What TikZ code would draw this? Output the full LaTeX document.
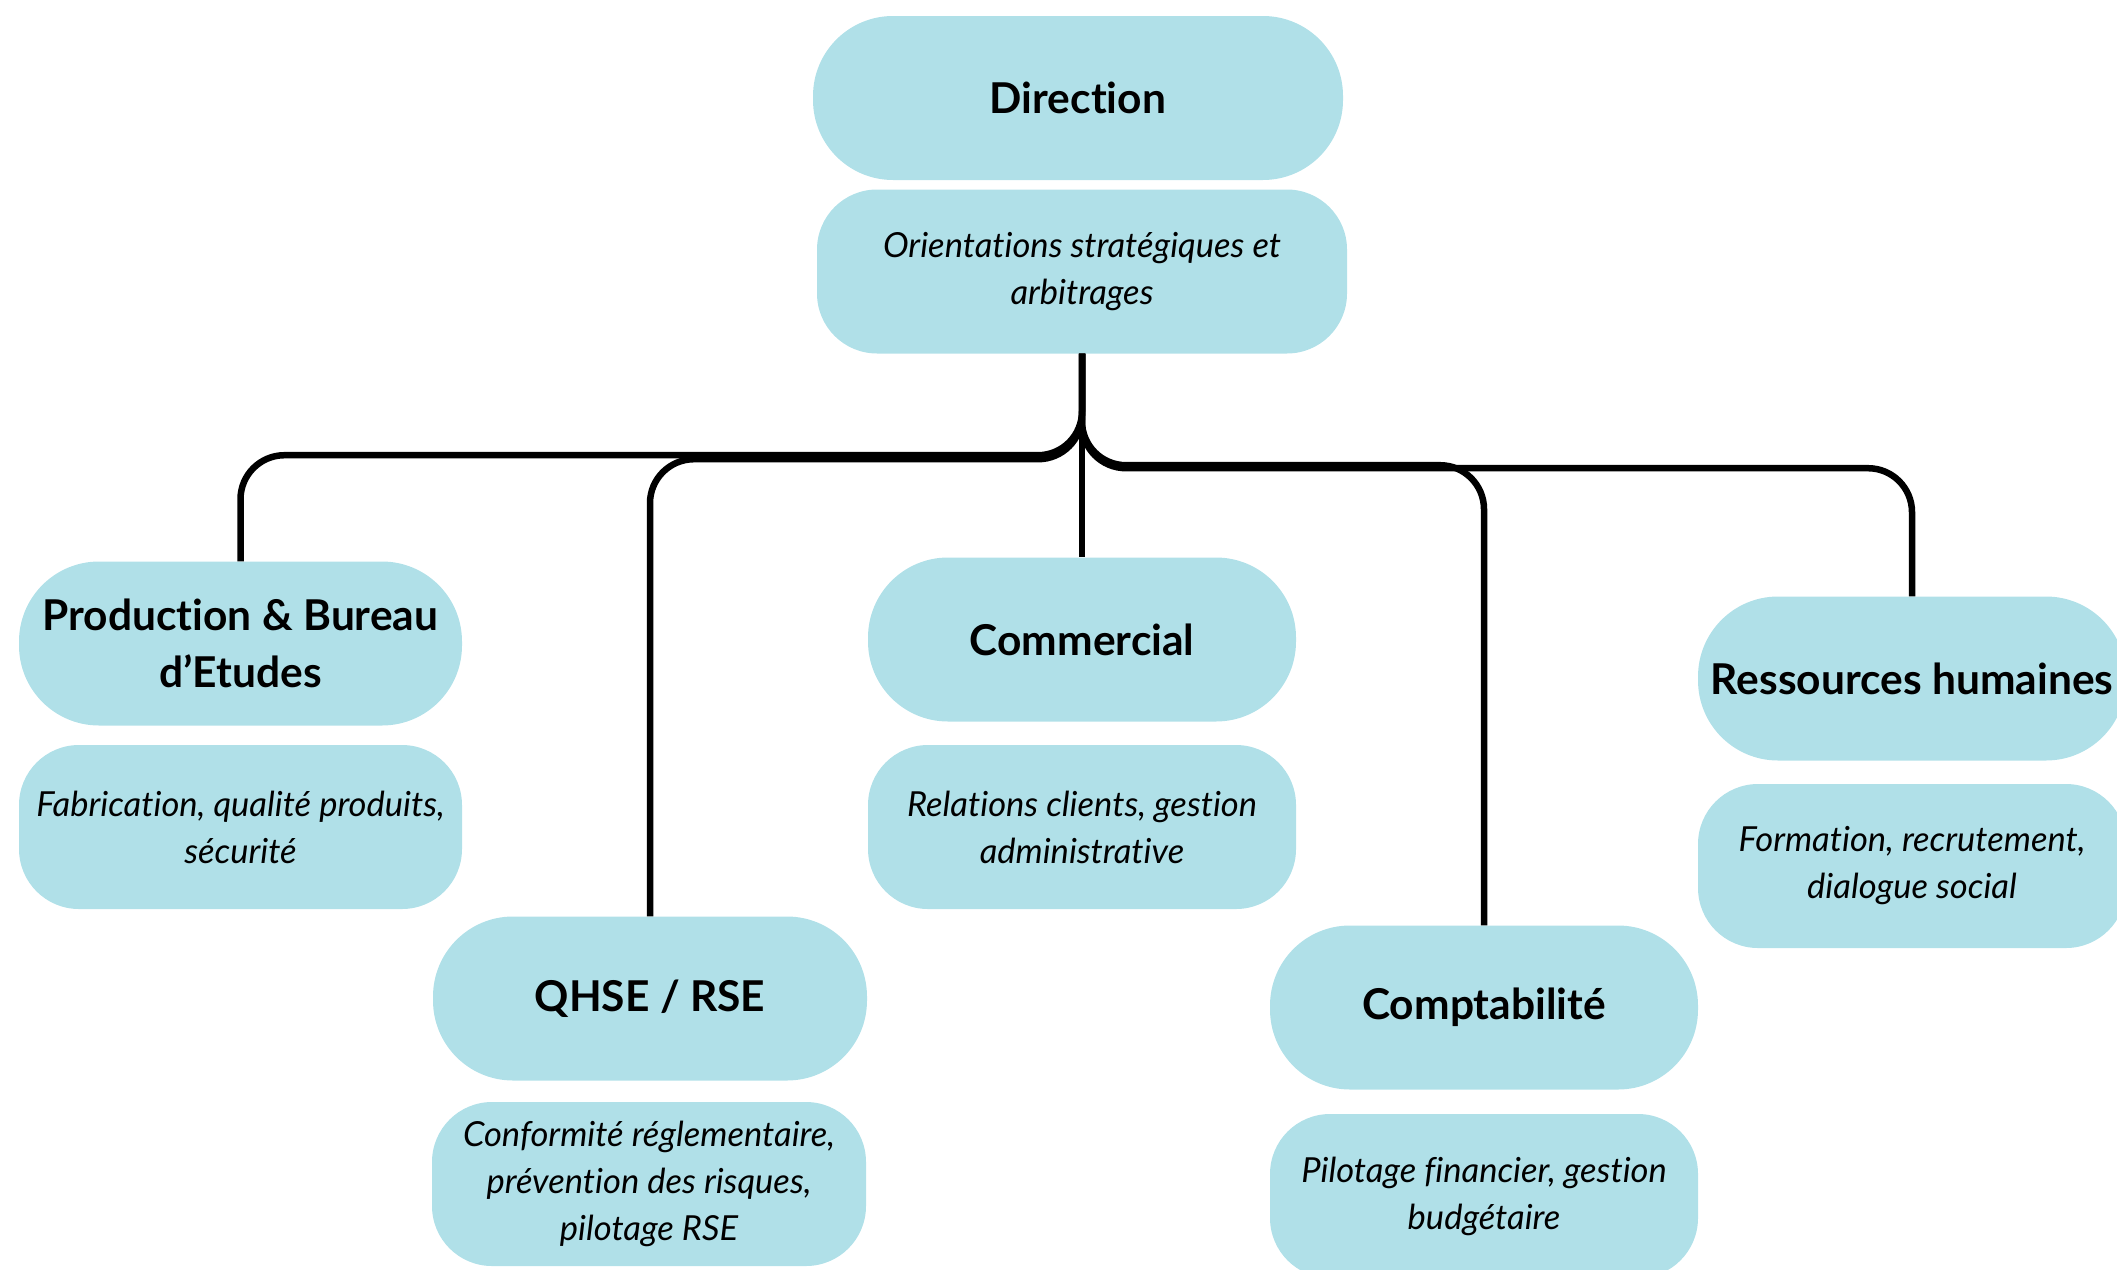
\documentclass[tikz,border=0pt]{standalone}
\usepackage{fontspec}
\setmainfont[Ligatures={NoCommon}]{Lato}
\definecolor{boxblue}{RGB}{176,224,232}
\begin{document}
\begin{tikzpicture}[x=1pt,y=-1pt,
  titlebox/.style={fill=boxblue, rounded corners=80pt, minimum height=164pt, inner sep=0pt, align=center,
    font=\fontsize{42.5}{57}\selectfont\bfseries},
  descbox/.style={fill=boxblue, rounded corners=60pt, minimum height=164pt, inner sep=0pt, align=center,
    font=\fontsize{34.5}{47}\selectfont\itshape},
  conn/.style={draw=black, line width=6.5pt, rounded corners=44pt}]
\useasboundingbox (0,0) rectangle (2117,1269);
\clip (0,0) rectangle (2117,1269);

\node[titlebox, minimum width=530pt] (dir) at (1078,98) {Direction};
\node[descbox, minimum width=530pt] (ddesc) at (1082,271.5) {Orientations stratégiques et\\arbitrages};

\node[titlebox, minimum width=443pt] (prod) at (240.5,643.5) {Production \& Bureau\\d’Etudes};
\node[descbox, minimum width=443pt] (proddesc) at (240.5,827) {Fabrication, qualité produits,\\sécurité};

\node[titlebox, minimum width=428pt] (comm) at (1082,639.5) {Commercial};
\node[descbox, minimum width=428pt] (commdesc) at (1082,827) {Relations clients, gestion\\administrative};

\node[titlebox, minimum width=434pt] (qhse) at (650,998.5) {QHSE / RSE};
\node[descbox, minimum width=434pt] (qhsedesc) at (649,1184) {Conformité réglementaire,\\prévention des risques,\\pilotage RSE};

\node[titlebox, minimum width=428pt] (compta) at (1484,1007.5) {Comptabilité};
\node[descbox, minimum width=428pt] (comptadesc) at (1484,1196) {Pilotage financier, gestion\\budgétaire};

\node[titlebox, minimum width=428pt] (rh) at (1912,678.5) {Ressources humaines};
\node[descbox, minimum width=428pt] (rhdesc) at (1912,866) {Formation, recrutement,\\dialogue social};

\draw[conn] (ddesc.south) -- ++(0,101.5) -| (prod.north);
\draw[conn] (ddesc.south) -- ++(0,105.5) -| (qhse.north);
\draw[conn] (ddesc.south) -- (comm.north);
\draw[conn] (ddesc.south) -- ++(0,111.5) -| (compta.north);
\draw[conn] (ddesc.south) -- ++(0,114.5) -| (rh.north);
\end{tikzpicture}
\end{document}
